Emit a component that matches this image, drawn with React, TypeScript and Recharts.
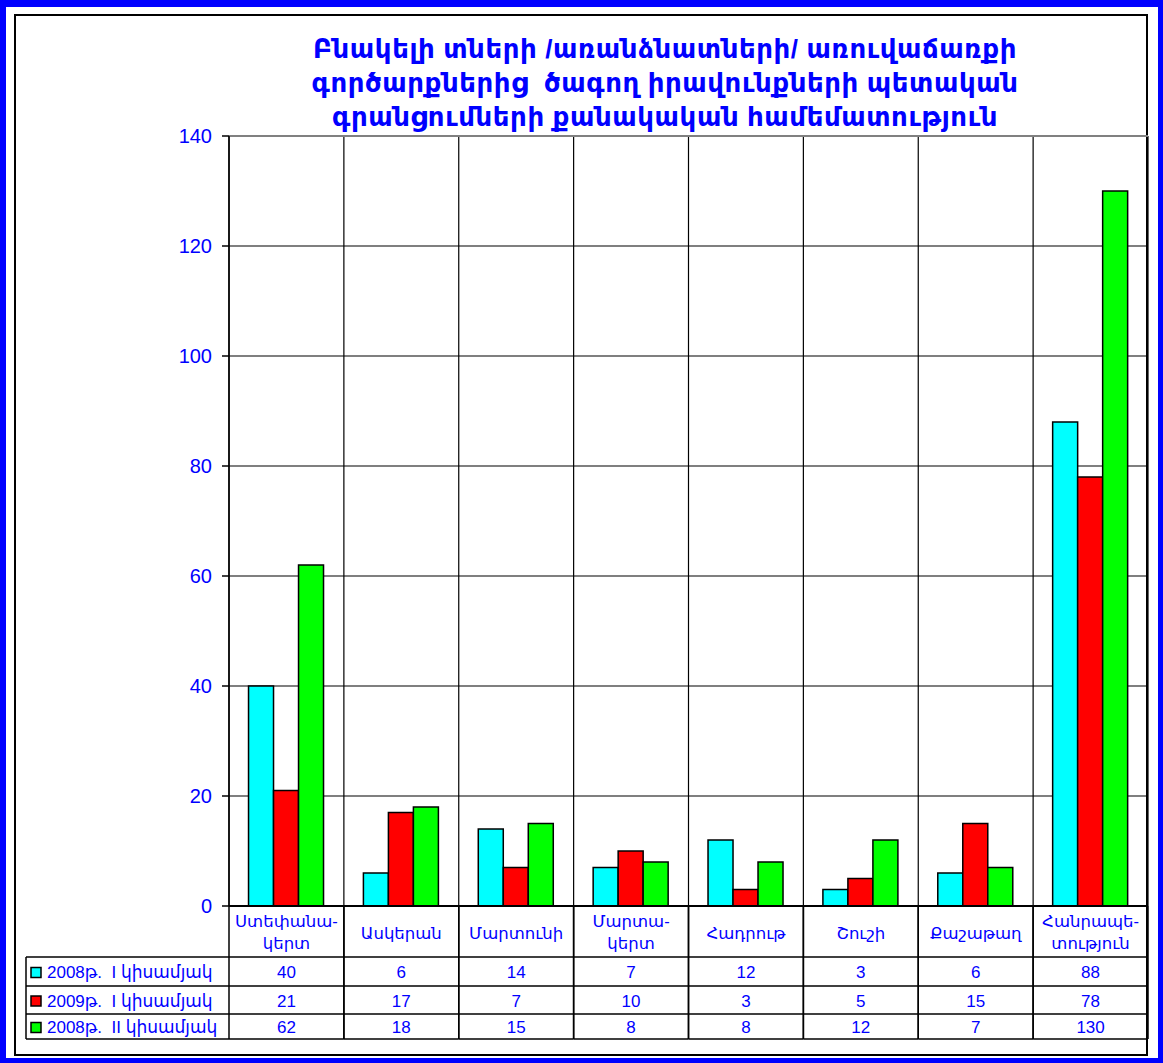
import React from 'react';
import { BarChart, Bar, XAxis, YAxis, CartesianGrid, ReferenceLine } from 'recharts';

// regions (two-line labels use \n)
const CATEGORIES = [
  'Ստեփանա-\nկերտ',
  'Ասկերան',
  'Մարտունի',
  'Մարտա-\nկերտ',
  'Հադրութ',
  'Շուշի',
  'Քաշաթաղ',
  'Հանրապե-\nտություն',
];

const SERIES_NAMES = ['2008թ.  I կիսամյակ', '2009թ.  I կիսամյակ', '2008թ.  II կիսամյակ'];
const SERIES_COLORS = ['#00ffff', '#ff0000', '#00ff00'];

const H1_2008 = [40, 6, 14, 7, 12, 3, 6, 88];
const H1_2009 = [21, 17, 7, 10, 3, 5, 15, 78];
const H2_2008 = [62, 18, 15, 8, 8, 12, 7, 130];
const SERIES = [H1_2008, H1_2009, H2_2008];

const Y_TICKS = [0, 20, 40, 60, 80, 100, 120, 140];

const TITLE_LINES = [
  'Բնակելի տների /առանձնատների/ առուվաճառքի',
  'գործարքներից  ծագող իրավունքների պետական',
  'գրանցումների քանակական համեմատություն',
];

const data = CATEGORIES.map((name, i) => ({
  name,
  s0: SERIES[0][i],
  s1: SERIES[1][i],
  s2: SERIES[2][i],
}));

const W = 1163;
const H = 1063;
const PLOT_LEFT = 229;
const PLOT_RIGHT = 1148;
const COL_W = (PLOT_RIGHT - PLOT_LEFT) / CATEGORIES.length;
const BLUE = '#0000ff';
const FONT = '"Liberation Sans", Arial, "DejaVu Sans", sans-serif';

// table rows below the axis, offsets from the axis line
const LABEL_ROW = 51;
const ROW_LINES = [51, 80, 108, 133];
const TABLE_LEFT = 26;

const TableTick = (props: any) => {
  const { x, y, payload } = props;
  const index = props.index ?? payload.index;
  const x0 = x - COL_W / 2;
  const x1 = x + COL_W / 2;
  const lines = String(payload.value).split('\n');
  const stroke = { stroke: '#000', strokeWidth: 1.5 };

  return (
    <g fontFamily={FONT}>
      <line x1={x0} y1={y} x2={x0} y2={y + ROW_LINES[3]} {...stroke} />
      <line x1={x1} y1={y} x2={x1} y2={y + ROW_LINES[3]} {...stroke} />
      {ROW_LINES.map((r) => (
        <line key={r} x1={x0} y1={y + r} x2={x1} y2={y + r} {...stroke} />
      ))}
      {lines.map((t, li) => (
        <text
          key={li}
          x={x}
          y={lines.length === 1 ? y + LABEL_ROW / 2 + 1 : y + 15 + li * 22}
          textAnchor="middle"
          dominantBaseline="central"
          fontSize={16.5}
          fill={BLUE}
        >
          {t}
        </text>
      ))}
      {SERIES.map((s, si) => (
        <text
          key={si}
          x={x}
          y={y + (ROW_LINES[si] + ROW_LINES[si + 1]) / 2 + 1}
          textAnchor="middle"
          dominantBaseline="central"
          fontSize={17}
          fill={BLUE}
        >
          {s[index]}
        </text>
      ))}
      {index === 0 && (
        <g>
          <line x1={TABLE_LEFT} y1={y + ROW_LINES[0]} x2={TABLE_LEFT} y2={y + ROW_LINES[3]} {...stroke} />
          {ROW_LINES.map((r) => (
            <line key={r} x1={TABLE_LEFT} y1={y + r} x2={x0} y2={y + r} {...stroke} />
          ))}
          {SERIES_NAMES.map((n, si) => {
            const cy = y + (ROW_LINES[si] + ROW_LINES[si + 1]) / 2 + 1;
            return (
              <g key={n}>
                <rect x={31} y={cy - 5} width={10} height={10} fill={SERIES_COLORS[si]} stroke="#000" strokeWidth={1.5} />
                <text x={47} y={cy} dominantBaseline="central" fontSize={17} fill={BLUE} style={{ whiteSpace: 'pre' }}>
                  {n}
                </text>
              </g>
            );
          })}
        </g>
      )}
    </g>
  );
};

export default function App() {
  return (
    <div style={{ position: 'absolute', left: 0, top: 0, width: W, height: H, background: '#fff', fontFamily: FONT }}>
      <div
        style={{
          position: 'absolute',
          inset: 0,
          borderStyle: 'solid',
          borderColor: BLUE,
          borderWidth: '7px 5px 5px 6px',
        }}
      />
      <div
        style={{
          position: 'absolute',
          left: 14,
          top: 14,
          width: 1148 - 14,
          height: 1056 - 14,
          boxSizing: 'border-box',
          border: '2px solid #000',
        }}
      />
      <div
        style={{
          position: 'absolute',
          left: 215,
          width: 900,
          top: 32,
          textAlign: 'center',
          color: BLUE,
          fontWeight: 'bold',
          fontSize: 26,
          letterSpacing: 0.6,
          lineHeight: '34px',
          whiteSpace: 'pre',
        }}
      >
        {TITLE_LINES.join('\n')}
      </div>
      <div style={{ position: 'absolute', left: 0, top: 0 }}>
        <BarChart
          width={W}
          height={H}
          data={data}
          margin={{ top: 136, right: W - PLOT_RIGHT, bottom: 0, left: PLOT_LEFT - 60 }}
          barCategoryGap="17%"
          barGap={0}
        >
          <CartesianGrid
            stroke="#000"
            strokeWidth={1.2}
            verticalCoordinatesGenerator={(p: any) => {
              const left = p?.offset?.left ?? PLOT_LEFT;
              const width = p?.offset?.width ?? PLOT_RIGHT - PLOT_LEFT;
              return CATEGORIES.map((_, i) => left + (i * width) / CATEGORIES.length).concat(left + width);
            }}
          />
          <XAxis
            dataKey="name"
            height={H - 906}
            interval={0}
            tickLine={false}
            tickSize={0}
            tickMargin={0}
            axisLine={{ stroke: '#000', strokeWidth: 2 }}
            tick={<TableTick />}
          />
          <YAxis
            width={60}
            domain={[0, 140]}
            ticks={Y_TICKS}
            interval={0}
            tickSize={7}
            tickMargin={10}
            axisLine={{ stroke: '#000', strokeWidth: 1.5 }}
            tickLine={{ stroke: '#000', strokeWidth: 1.5 }}
            tick={{ fill: BLUE, fontSize: 20, fontFamily: FONT }}
          />
          <ReferenceLine y={140} stroke="#808080" strokeWidth={2} />
          {SERIES_NAMES.map((n, si) => (
            <Bar
              key={n}
              dataKey={`s${si}`}
              name={n}
              fill={SERIES_COLORS[si]}
              stroke="#000"
              strokeWidth={1.5}
              isAnimationActive={false}
            />
          ))}
        </BarChart>
      </div>
    </div>
  );
}
